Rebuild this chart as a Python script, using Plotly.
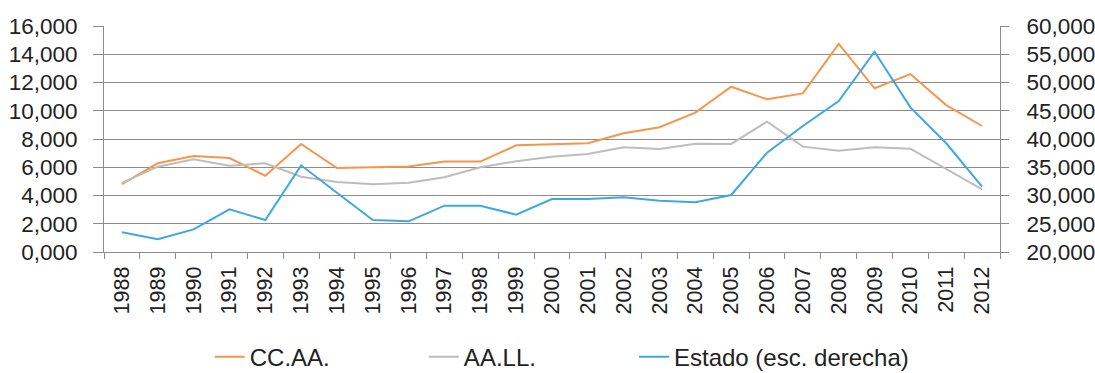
import plotly.graph_objects as go

years = [str(y) for y in range(1988, 2013)]

# Regional governments (left axis)
cc_aa = [4800, 6280, 6800, 6650, 5400, 7650, 5950, 6000, 6050, 6400, 6400, 7550,
         7650, 7700, 8400, 8830, 9870, 11700, 10810, 11230, 14730, 11590, 12600,
         10400, 8920]
# Local governments (left axis)
aa_ll = [4900, 6040, 6560, 6100, 6280, 5330, 4950, 4790, 4900, 5290, 6000, 6420,
         6750, 6940, 7410, 7290, 7670, 7650, 9230, 7460, 7170, 7410, 7310, 5850,
         4440]
# Central government (right axis)
estado = [23490, 22250, 24010, 27550, 25660, 35340, 30500, 25660, 25430, 28200,
          28200, 26600, 29380, 29380, 29680, 29080, 28800, 30090, 37580, 42300,
          46730, 55450, 45600, 39240, 31560]

left_ticks = list(range(0, 16001, 2000))
left_labels = ["0,000", "2,000", "4,000", "6,000", "8,000", "10,000", "12,000",
               "14,000", "16,000"]
right_ticks = list(range(20000, 60001, 5000))
right_labels = ["20,000", "25,000", "30,000", "35,000", "40,000", "45,000",
                "50,000", "55,000", "60,000"]

FONT = "Liberation Sans, Arial, sans-serif"
TXT = "#222222"
GRID = "#8c8c8c"

fig = go.Figure()
fig.add_trace(go.Scatter(x=years, y=cc_aa, name="CC.AA.", mode="lines",
                         line=dict(color="#F7964A", width=2), legend="legend"))
fig.add_trace(go.Scatter(x=years, y=aa_ll, name="AA.LL.", mode="lines",
                         line=dict(color="#BDBDBD", width=2), legend="legend2"))
fig.add_trace(go.Scatter(x=years, y=estado, name="Estado (esc. derecha)", mode="lines",
                         line=dict(color="#3EA8E2", width=2), yaxis="y2",
                         legend="legend3"))

legend_common = dict(orientation="h", yanchor="middle", y=-0.465, xanchor="left",
                     font=dict(family=FONT, size=24, color=TXT),
                     bgcolor="rgba(0,0,0,0)", itemwidth=30)

fig.update_layout(
    width=1095, height=373,
    margin=dict(l=104, r=95, t=26, b=121, autoexpand=False),
    paper_bgcolor="white", plot_bgcolor="white",
    font=dict(family=FONT, color=TXT),
    showlegend=True,
    legend=dict(x=0.118, **legend_common),
    legend2=dict(x=0.357, **legend_common),
    legend3=dict(x=0.5915, **legend_common),
    xaxis=dict(
        type="category", tickangle=-90, tickson="boundaries",
        ticks="outside", ticklen=6, tickcolor=GRID, tickwidth=1,
        showgrid=False, showline=True, linecolor=GRID, linewidth=1,
        tickfont=dict(family=FONT, size=21.5, color=TXT), ticklabelstandoff=5,
        range=[-0.5, 24.5], automargin=False,
    ),
    yaxis=dict(
        range=[0, 16000], tickvals=left_ticks, ticktext=left_labels,
        ticks="outside", ticklen=10, tickcolor=GRID, tickwidth=1,
        showgrid=True, gridcolor=GRID, gridwidth=1.3,
        showline=True, linecolor=GRID, linewidth=1, zeroline=False,
        tickfont=dict(family=FONT, size=22.5, color=TXT), ticklabelstandoff=11,
        automargin=False,
    ),
    yaxis2=dict(
        range=[20000, 60000], tickvals=right_ticks, ticktext=right_labels,
        overlaying="y", side="right",
        ticks="outside", ticklen=8, tickcolor=GRID, tickwidth=1,
        showgrid=False, showline=True, linecolor=GRID, linewidth=1, zeroline=False,
        tickfont=dict(family=FONT, size=22.5, color=TXT), ticklabelstandoff=13,
        automargin=False,
    ),
)

fig.write_html("out.html")
